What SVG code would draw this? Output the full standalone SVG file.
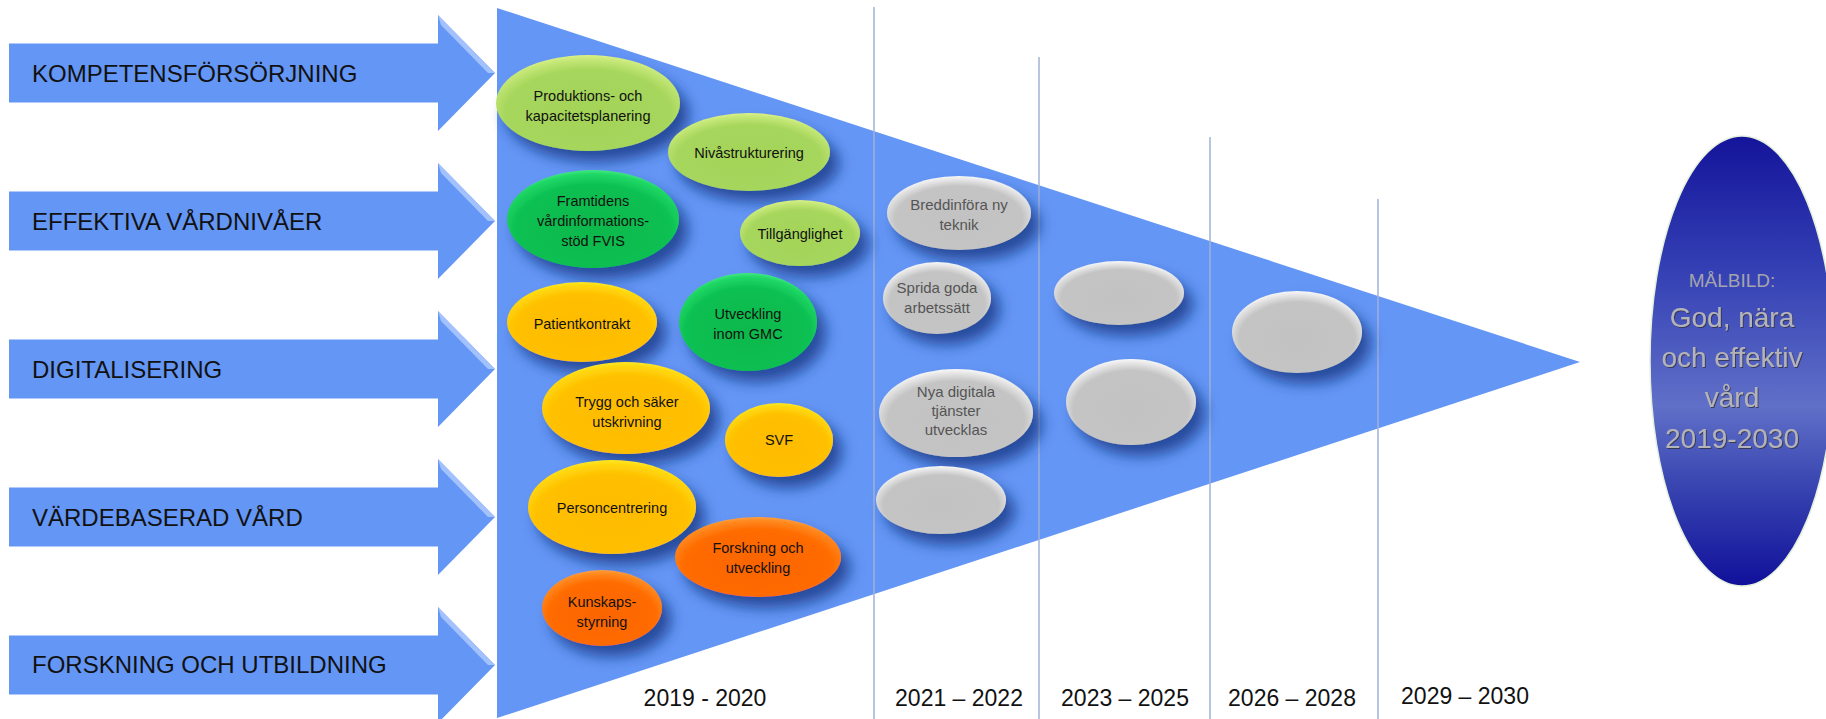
<svg xmlns="http://www.w3.org/2000/svg" width="1826" height="719" viewBox="0 0 1826 719">
<defs>
<style>
text{font-family:"Liberation Sans",Arial,sans-serif}
.lbl{font-size:24px;fill:#111}
.yr{font-size:23px;fill:#111;text-anchor:middle}
.et{font-size:14.5px;fill:#111;text-anchor:middle}
.gt{font-size:15px;fill:#555;text-anchor:middle}
.arrow{fill:#6496f5}
.bevel{fill:#b8d0ff;opacity:0.75}
.vline{stroke:#9fb0d8;stroke-width:1.5}
.big{font-size:28px;fill:#b4b4b8;text-anchor:middle;filter:url(#tsh)}
</style>
<radialGradient id="gLime" cx="0.5" cy="0.6" r="0.62">
<stop offset="0" stop-color="#a3d458"/><stop offset="0.72" stop-color="#a6d65c"/><stop offset="0.9" stop-color="#c6e878"/><stop offset="1" stop-color="#e6f48e"/>
</radialGradient>
<radialGradient id="gGreen" cx="0.5" cy="0.6" r="0.62">
<stop offset="0" stop-color="#08b84c"/><stop offset="0.72" stop-color="#0cc052"/><stop offset="0.9" stop-color="#20d866"/><stop offset="1" stop-color="#50f090"/>
</radialGradient>
<radialGradient id="gYellow" cx="0.5" cy="0.6" r="0.62">
<stop offset="0" stop-color="#ffbb00"/><stop offset="0.72" stop-color="#ffc000"/><stop offset="0.9" stop-color="#ffd810"/><stop offset="1" stop-color="#fff030"/>
</radialGradient>
<radialGradient id="gOrange" cx="0.5" cy="0.6" r="0.62">
<stop offset="0" stop-color="#fb6400"/><stop offset="0.72" stop-color="#ff6c00"/><stop offset="0.9" stop-color="#ff8a20"/><stop offset="1" stop-color="#ffa850"/>
</radialGradient>
<radialGradient id="gGray" cx="0.5" cy="0.58" r="0.6">
<stop offset="0" stop-color="#c2c2c2"/><stop offset="0.74" stop-color="#c4c4c4"/><stop offset="0.88" stop-color="#e4e4e4"/><stop offset="1" stop-color="#ffffff"/>
</radialGradient>
<linearGradient id="gGoal" x1="0" y1="0" x2="0" y2="1">
<stop offset="0" stop-color="#14149a"/><stop offset="0.3" stop-color="#3440b4"/><stop offset="0.6" stop-color="#6070c8"/><stop offset="0.78" stop-color="#3844b0"/><stop offset="1" stop-color="#10109a"/>
</linearGradient>
<filter id="sh" x="-30%" y="-30%" width="170%" height="180%">
<feDropShadow dx="9" dy="11" stdDeviation="7" flood-color="#12307e" flood-opacity="0.75"/>
</filter>
<filter id="tsh" x="-10%" y="-20%" width="120%" height="150%">
<feDropShadow dx="1" dy="1" stdDeviation="0.6" flood-color="#303040" flood-opacity="0.8"/>
</filter>
</defs>
<rect width="1826" height="719" fill="#ffffff"/>

<g id="funnel">
<polygon points="497,8 1580,362 497,718" fill="#6496f5"/>
</g>

<g id="timeline">
<line class="vline" x1="874" y1="7" x2="874" y2="719"/>
<line class="vline" x1="1039" y1="57" x2="1039" y2="719"/>
<line class="vline" x1="1210" y1="137" x2="1210" y2="719"/>
<line class="vline" x1="1378" y1="199" x2="1378" y2="719"/>
<text class="yr" x="705" y="706">2019 - 2020</text>
<text class="yr" x="959" y="706">2021 – 2022</text>
<text class="yr" x="1125" y="706">2023 – 2025</text>
<text class="yr" x="1292" y="706">2026 – 2028</text>
<text class="yr" x="1465" y="704">2029 – 2030</text>
</g>

<g id="connectors">
<g id="arrow-kompetens">
<path class="arrow" d="M9,43.5H438V15L495,73L438,131V102.5H9Z"/>
<polygon class="bevel" points="438,15 495,73 488,73 441,25"/>
<text class="lbl" x="32" y="82">KOMPETENSFÖRSÖRJNING</text>
</g>
<g id="arrow-effektiva">
<path class="arrow" d="M9,191.5H438V163L495,221L438,279V250.5H9Z"/>
<polygon class="bevel" points="438,163 495,221 488,221 441,173"/>
<text class="lbl" x="32" y="230">EFFEKTIVA VÅRDNIVÅER</text>
</g>
<g id="arrow-digital">
<path class="arrow" d="M9,339.5H438V311L495,369L438,427V398.5H9Z"/>
<polygon class="bevel" points="438,311 495,369 488,369 441,321"/>
<text class="lbl" x="32" y="378">DIGITALISERING</text>
</g>
<g id="arrow-vardebaserad">
<path class="arrow" d="M9,487.5H438V459L495,517L438,575V546.5H9Z"/>
<polygon class="bevel" points="438,459 495,517 488,517 441,469"/>
<text class="lbl" x="32" y="526">VÄRDEBASERAD VÅRD</text>
</g>
<g id="arrow-forskning">
<path class="arrow" d="M9,635.5H438V607L495,665L438,723V694.5H9Z"/>
<polygon class="bevel" points="438,607 495,665 488,665 441,617"/>
<text class="lbl" x="32" y="673">FORSKNING OCH UTBILDNING</text>
</g>
</g>

<g id="n-produktion"><ellipse cx="588" cy="103" rx="92" ry="48" fill="url(#gLime)" filter="url(#sh)"/>
<text class="et" x="588" y="101">Produktions- och</text><text class="et" x="588" y="121">kapacitetsplanering</text></g>
<g id="n-niva"><ellipse cx="749" cy="152" rx="81" ry="39" fill="url(#gLime)" filter="url(#sh)"/>
<text class="et" x="749" y="158">Nivåstrukturering</text></g>
<g id="n-fvis"><ellipse cx="593" cy="219" rx="86" ry="49" fill="url(#gGreen)" filter="url(#sh)"/>
<text class="et" x="593" y="206">Framtidens</text><text class="et" x="593" y="226">vårdinformations-</text><text class="et" x="593" y="246">stöd FVIS</text></g>
<g id="n-tillganglighet"><ellipse cx="800" cy="233" rx="60" ry="33" fill="url(#gLime)" filter="url(#sh)"/>
<text class="et" x="800" y="239">Tillgänglighet</text></g>
<g id="n-patientkontrakt"><ellipse cx="582" cy="322" rx="75" ry="40" fill="url(#gYellow)" filter="url(#sh)"/>
<text class="et" x="582" y="329">Patientkontrakt</text></g>
<g id="n-gmc"><ellipse cx="748" cy="322" rx="69" ry="49" fill="url(#gGreen)" filter="url(#sh)"/>
<text class="et" x="748" y="319">Utveckling</text><text class="et" x="748" y="339">inom GMC</text></g>
<g id="n-trygg"><ellipse cx="626" cy="408" rx="84" ry="46" fill="url(#gYellow)" filter="url(#sh)"/>
<text class="et" x="627" y="407">Trygg och säker</text><text class="et" x="627" y="427">utskrivning</text></g>
<g id="n-svf"><ellipse cx="779" cy="440" rx="54" ry="37" fill="url(#gYellow)" filter="url(#sh)"/>
<text class="et" x="779" y="445">SVF</text></g>
<g id="n-person"><ellipse cx="612" cy="507" rx="84" ry="47" fill="url(#gYellow)" filter="url(#sh)"/>
<text class="et" x="612" y="513">Personcentrering</text></g>
<g id="n-forskning"><ellipse cx="758" cy="557" rx="83" ry="40" fill="url(#gOrange)" filter="url(#sh)"/>
<text class="et" x="758" y="553">Forskning och</text><text class="et" x="758" y="573">utveckling</text></g>
<g id="n-kunskap"><ellipse cx="602" cy="608" rx="60" ry="38" fill="url(#gOrange)" filter="url(#sh)"/>
<text class="et" x="602" y="607">Kunskaps-</text><text class="et" x="602" y="627">styrning</text></g>

<g id="n-breddinfora"><ellipse cx="959" cy="213" rx="72" ry="37" fill="url(#gGray)" filter="url(#sh)"/>
<text class="gt" x="959" y="210">Breddinföra ny</text><text class="gt" x="959" y="230">teknik</text></g>
<g id="n-sprida"><ellipse cx="937" cy="298" rx="54" ry="36" fill="url(#gGray)" filter="url(#sh)"/>
<text class="gt" x="937" y="293">Sprida goda</text><text class="gt" x="937" y="313">arbetssätt</text></g>
<g id="n-digitala"><ellipse cx="956" cy="413" rx="77" ry="44" fill="url(#gGray)" filter="url(#sh)"/>
<text class="gt" x="956" y="397">Nya digitala</text><text class="gt" x="956" y="416">tjänster</text><text class="gt" x="956" y="435">utvecklas</text></g>
<g id="n-empty1"><ellipse cx="941" cy="500" rx="65" ry="34" fill="url(#gGray)" filter="url(#sh)"/></g>
<g id="n-empty2"><ellipse cx="1119" cy="293" rx="65" ry="32" fill="url(#gGray)" filter="url(#sh)"/></g>
<g id="n-empty3"><ellipse cx="1131" cy="402" rx="65" ry="43" fill="url(#gGray)" filter="url(#sh)"/></g>
<g id="n-empty4"><ellipse cx="1297" cy="332" rx="65" ry="41" fill="url(#gGray)" filter="url(#sh)"/></g>

<g id="n-malbild">
<ellipse cx="1742" cy="361" rx="92" ry="225" fill="url(#gGoal)" stroke="#e4f0dc" stroke-width="1.5"/>
<text x="1732" y="287" font-size="19" fill="#a4a4ac" text-anchor="middle">MÅLBILD:</text>
<text class="big" x="1732" y="327">God, nära</text>
<text class="big" x="1732" y="367">och effektiv</text>
<text class="big" x="1732" y="407">vård</text>
<text class="big" x="1732" y="448">2019-2030</text>
</g>
</svg>
